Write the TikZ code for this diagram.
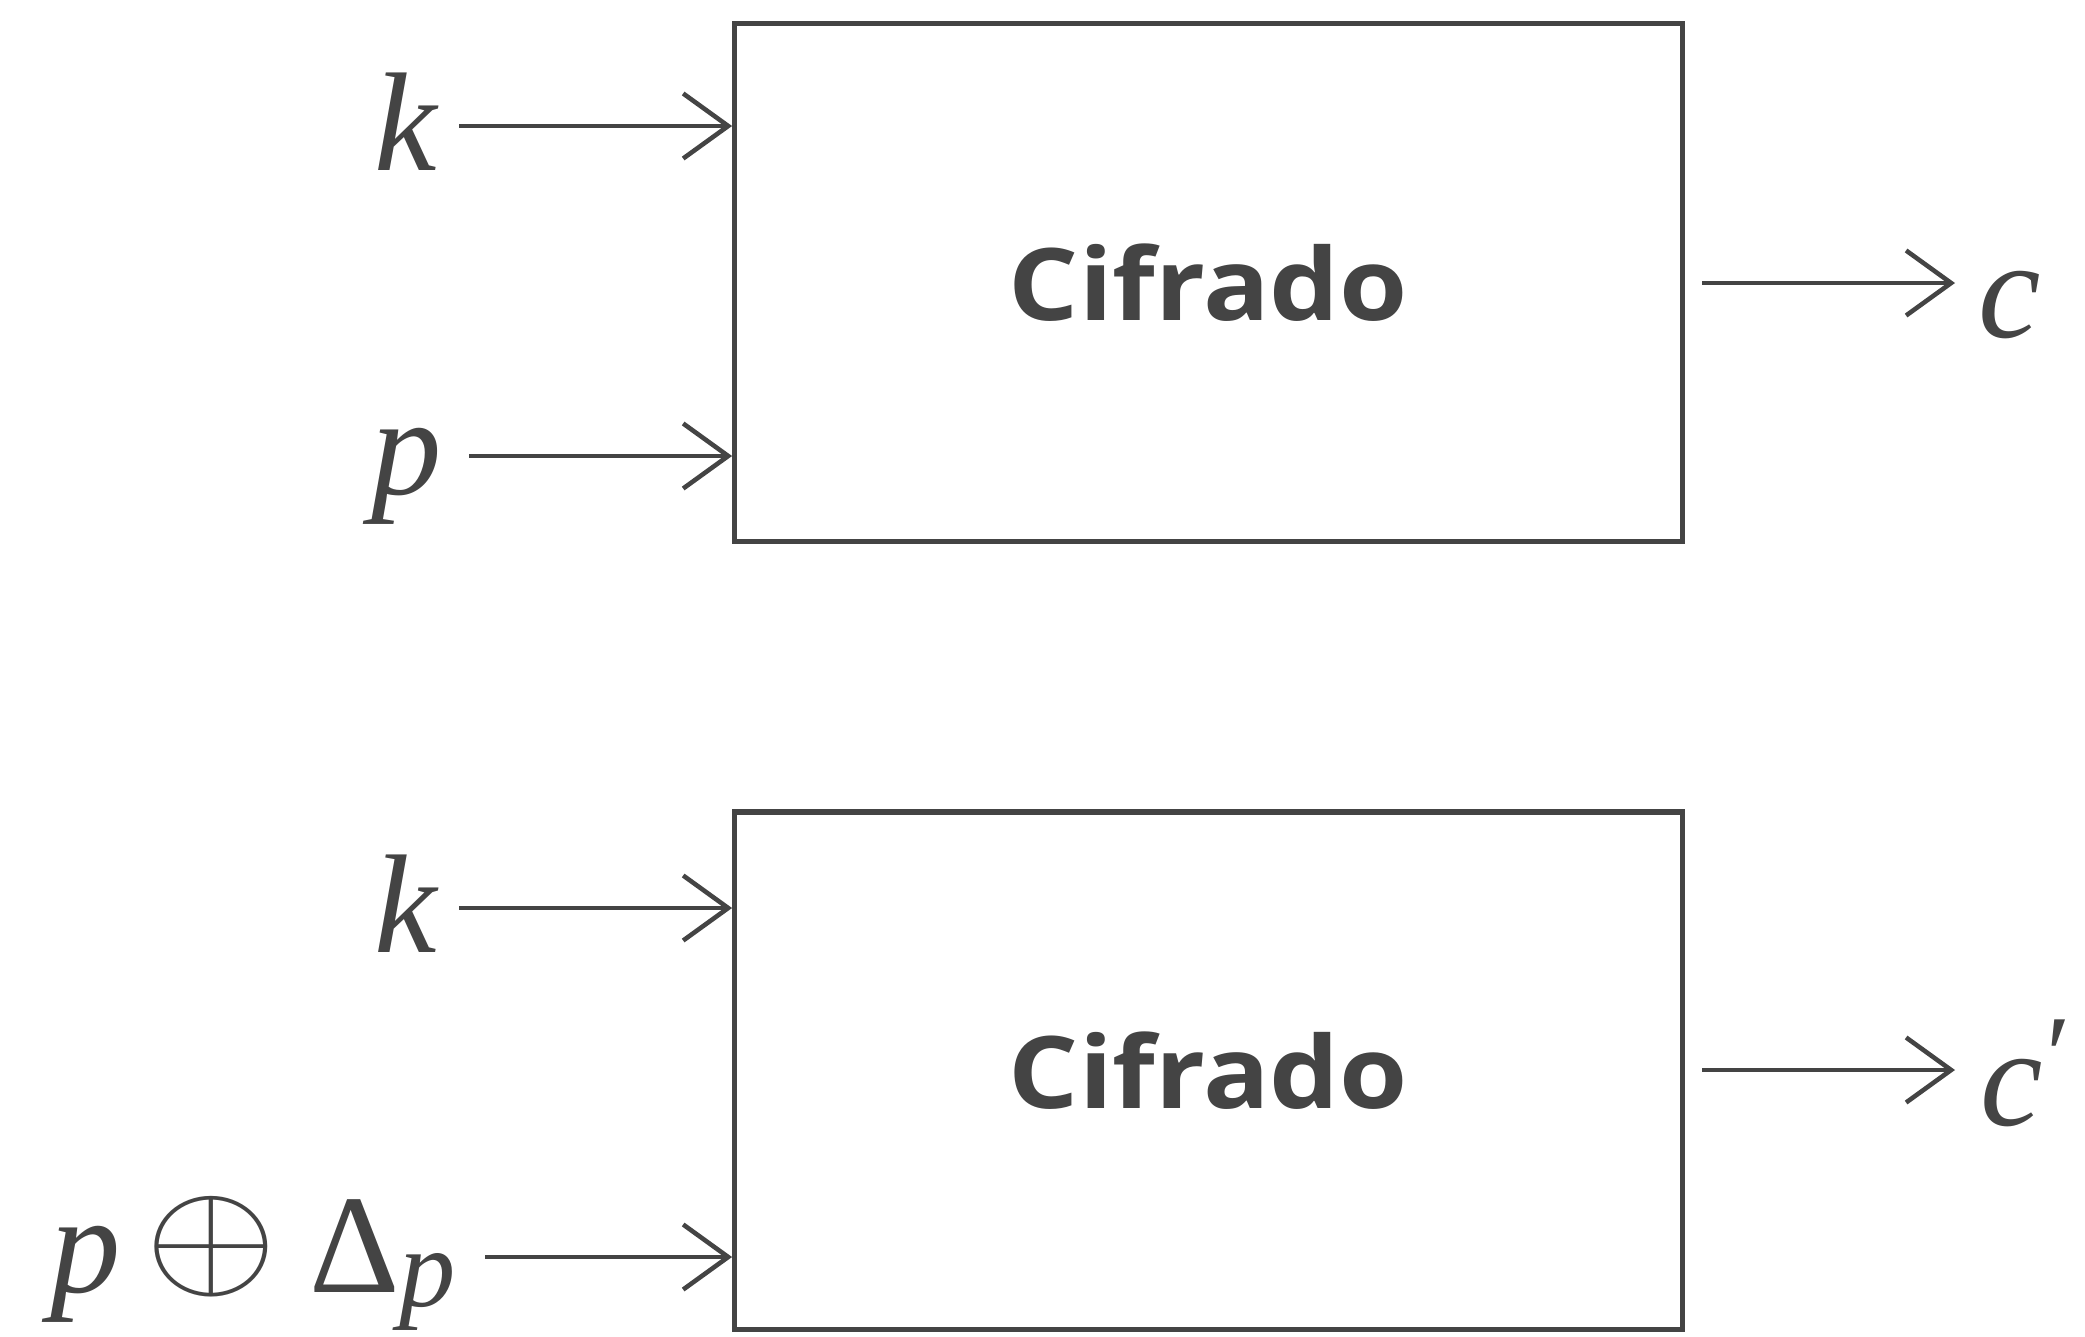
\RequirePackage{fix-cm}
\documentclass[tikz,border=0pt]{standalone}
\usepackage{fontspec}
\newfontfamily\boxfont[FakeStretch=1.1]{Open Sans}
\newfontfamily\lblfont{Liberation Serif}
\usetikzlibrary{arrows.meta}
\definecolor{ink}{HTML}{444444}
\tikzset{
  blk/.style={draw=ink, line width=1.5pt, minimum width=9.47cm, minimum height=5.17cm, inner sep=0pt,
    font=\boxfont\bfseries\fontsize{28.5}{32}\selectfont, text=ink},
  sig/.style={text=ink, font=\lblfont\itshape\fontsize{40}{44}\selectfont, inner sep=0pt},
  arr/.style={draw=ink, line width=1.3pt, -{Straight Barb[length=4.5mm,width=6.5mm,line width=1.3pt]}}
}
\begin{document}
\begin{tikzpicture}[x=0.01cm,y=-0.01cm]
\useasboundingbox (0,0) rectangle (2085,1336);
\node[blk] (b1) at (1208.5,282.5) {\raisebox{-2.5pt}{Cifrado}};
\node[blk] (b2) at (1208.5,1070.5) {\raisebox{-2.5pt}{Cifrado}};
% top
\node[sig, anchor=base] (k1) at (406,170) {k};
\node[sig, anchor=base] (p1) at (407,494) {p};
\node[sig, anchor=base] (c1) at (2010,337) {c};
\coordinate (k1s) at (459,126);
\coordinate (p1s) at (469,456);
\coordinate (c1s) at (1702,283);
\draw[arr] (k1s) -- (k1s -| b1.west);
\draw[arr] (p1s) -- (p1s -| b1.west);
\draw[arr] (c1s) -- (1955,283);
% bottom
\node[sig, anchor=base] (k2) at (406,952) {k};
\node[sig, anchor=base west] (pd) at (50,1292) {p\hspace{7pt}\raisebox{2pt}{\scalebox{1.12}[1]{\fontsize{43}{46}\selectfont$\oplus$}}\hspace{9pt}\upshape Δ\raisebox{-4pt}{\fontsize{32}{34}\selectfont\itshape p}};
\node[sig, anchor=base west] (c2) at (1980,1125) {c\kern1pt\raisebox{9pt}{\fontsize{32}{34}\selectfont\upshape ′}};
\coordinate (k2s) at (459,908);
\coordinate (pds) at (485,1257);
\coordinate (c2s) at (1702,1070);
\draw[arr] (k2s) -- (k2s -| b2.west);
\draw[arr] (pds) -- (pds -| b2.west);
\draw[arr] (c2s) -- (1955,1070);
\end{tikzpicture}
\end{document}
